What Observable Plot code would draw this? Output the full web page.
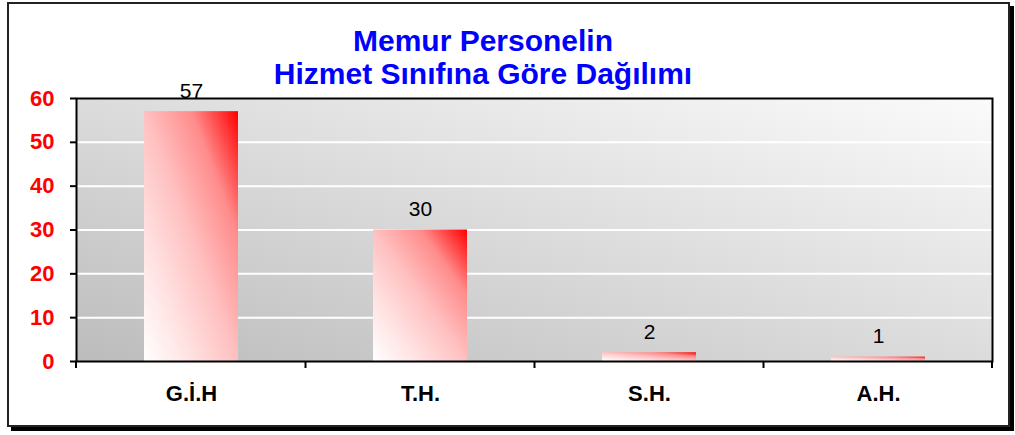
<!DOCTYPE html>
<html>
<head>
<meta charset="utf-8">
<script src="https://cdn.jsdelivr.net/npm/d3@7"></script>
<script src="https://cdn.jsdelivr.net/npm/@observablehq/plot@0.6"></script>
<style>
  body { margin: 0; background: #fff; }
  #wrap { position: relative; width: 1015px; height: 435px; font-family: Arial, "Liberation Sans", sans-serif; }
  #box { position: absolute; left: 7px; top: 2px; width: 999px; height: 421px; border: 2px solid #222; box-shadow: 4px 4px 0 #000; background: #fff; }
  #title { position: absolute; left: 0; top: 25px; width: 966px; text-align: center; color: #0000ff; font-weight: bold; font-size: 30px; line-height: 32.5px; z-index: 2; }
  #chart { position: absolute; left: 0; top: 0; z-index: 1; }
</style>
</head>
<body>
<div id="wrap">
  <div id="box"></div>
  <div id="title">Memur Personelin<br>Hizmet Sınıfına Göre Dağılımı</div>
  <div id="chart"></div>
</div>
<script>
const categories = ["G.İ.H", "T.H.", "S.H.", "A.H."];
const values = [57, 30, 2, 1];
const yTicks = [0, 10, 20, 30, 40, 50, 60];
const gridTicks = [10, 20, 30, 40, 50];

const data = categories.map((c, i) => ({cat: c, value: values[i]}));

const plot = Plot.plot({
  width: 1015,
  height: 435,
  marginLeft: 76,
  marginRight: 23,
  marginTop: 98,
  marginBottom: 74,
  style: {background: "transparent", fontFamily: "Arial, 'Liberation Sans', sans-serif", overflow: "visible"},
  x: {domain: categories, paddingInner: 0.59, paddingOuter: 0.295, label: null},
  y: {domain: [0, 60], label: null},
  marks: [
    Plot.frame({fill: "url(#bgGrad)", stroke: "none"}),
    Plot.gridY(gridTicks, {stroke: "white", strokeOpacity: 1, strokeWidth: 2}),
    Plot.barY(data, {x: "cat", y: "value", fill: "url(#barGrad)"}),
    Plot.frame({stroke: "black", strokeWidth: 2}),
    Plot.text(data, {x: "cat", y: "value", text: d => String(d.value), dy: -14, lineAnchor: "bottom", fontSize: 21, fill: "black"}),
    Plot.axisY(yTicks, {tickSize: 6, tickPadding: 16, fontSize: 22, fontWeight: "bold", fill: "#ff0000", stroke: "black", strokeWidth: 2, label: null}),
    Plot.axisX({tickSize: 0, tickPadding: 24, fontSize: 22, fontWeight: "bold", fill: "black", label: null})
  ]
});

const svg = d3.select(plot);
const defs = svg.insert("defs", ":first-child");
const bg = defs.append("linearGradient").attr("id", "bgGrad").attr("x1", 0).attr("y1", 1).attr("x2", 1).attr("y2", 0);
bg.append("stop").attr("offset", "0%").attr("stop-color", "#bcbcbc");
bg.append("stop").attr("offset", "100%").attr("stop-color", "#fbfbfb");
const bar = defs.append("linearGradient").attr("id", "barGrad").attr("x1", 0).attr("y1", 1).attr("x2", 1).attr("y2", 0);
bar.append("stop").attr("offset", "0%").attr("stop-color", "#ffffff");
bar.append("stop").attr("offset", "25%").attr("stop-color", "#ffe2e2");
bar.append("stop").attr("offset", "50%").attr("stop-color", "#ffc0c0");
bar.append("stop").attr("offset", "75%").attr("stop-color", "#ff8c8c");
bar.append("stop").attr("offset", "100%").attr("stop-color", "#ff0000");

// boundary ticks on x axis, from the library's scales
const xs = plot.scale("x");
const ys = plot.scale("y");
const bw = xs.bandwidth;
const centers = categories.map(c => xs.apply(c) + bw / 2);
const bounds = [xs.range[0]];
for (let i = 0; i < centers.length - 1; i++) bounds.push((centers[i] + centers[i + 1]) / 2);
bounds.push(xs.range[1]);
const y0 = ys.apply(0);
svg.append("g").selectAll("line").data(bounds).join("line")
  .attr("x1", d => d).attr("x2", d => d)
  .attr("y1", y0).attr("y2", y0 + 7)
  .attr("stroke", "black").attr("stroke-width", 2);

document.getElementById("chart").appendChild(plot);
</script>
</body>
</html>
